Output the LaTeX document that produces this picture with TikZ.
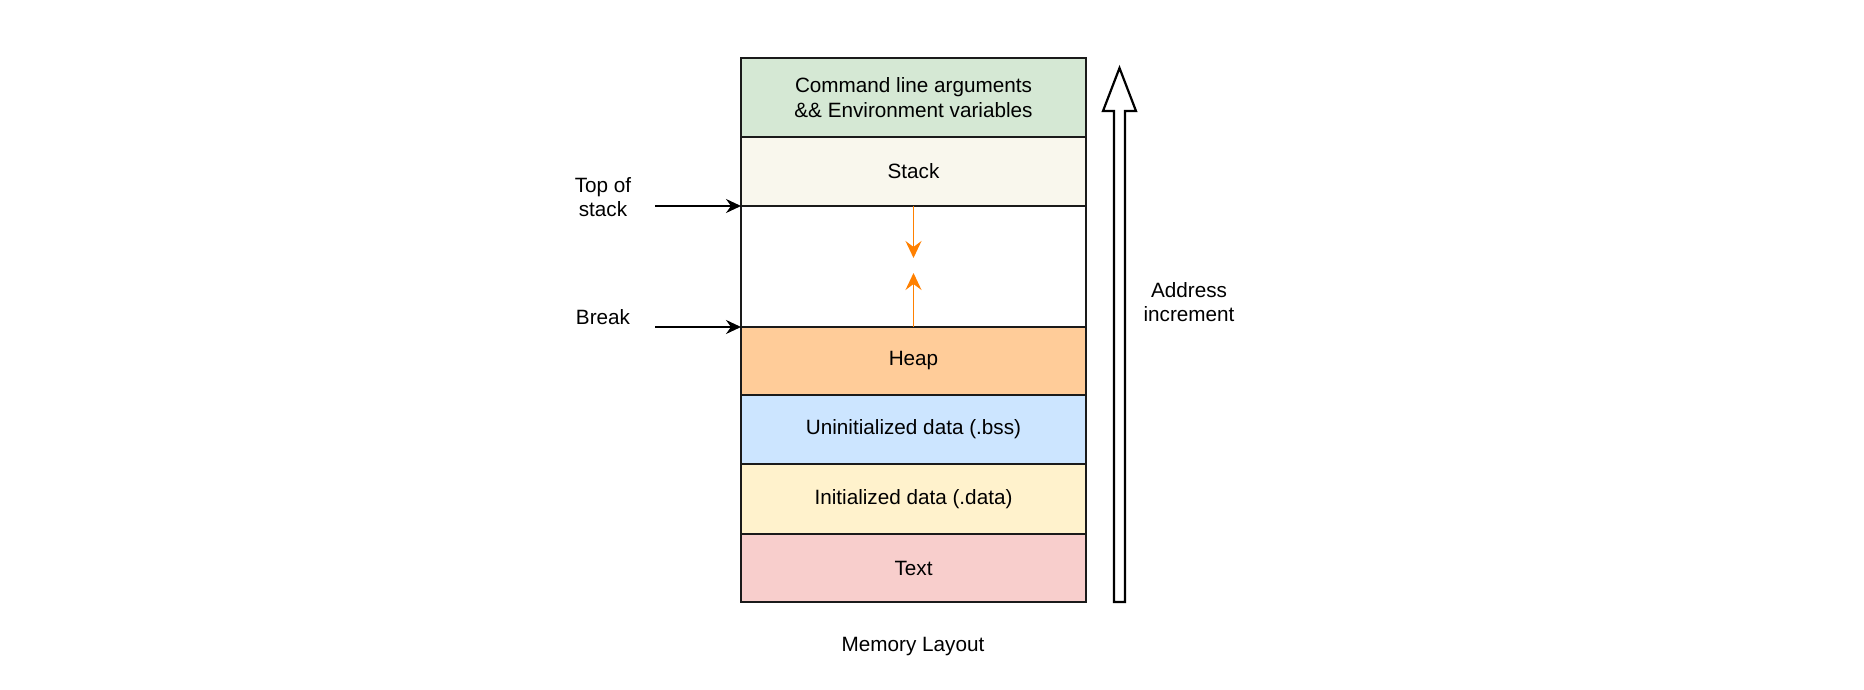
\documentclass[tikz,border=0pt]{standalone}
\usepackage{fontspec}
\setmainfont{Liberation Sans}
\usetikzlibrary{arrows.meta}
\definecolor{cmdgreen}{HTML}{D5E8D4}
\definecolor{stackbg}{HTML}{F9F7ED}
\definecolor{heapbg}{HTML}{FFCC99}
\definecolor{bssbg}{HTML}{CCE5FF}
\definecolor{databg}{HTML}{FFF2CC}
\definecolor{textbg}{HTML}{F8CECC}
\definecolor{orangeline}{HTML}{FF8000}
\definecolor{boxline}{HTML}{1A1A1A}
\begin{document}
\begin{tikzpicture}[x=0.5pt,y=-0.5pt,
  every node/.style={font=\fontsize{10.35}{12.2}\selectfont, align=center},
  seg/.style={draw=boxline, line width=1.1pt, minimum width=172.5pt, inner sep=0pt, outer sep=0pt},
  lbl/.style={inner sep=0pt},
  blackarrow/.style={line width=0.9pt, -{Stealth[length=7.5pt,width=7pt,inset=2.5pt]}},
  orangearrow/.style={draw=orangeline, line width=0.9pt, -{Stealth[length=8.5pt,width=8pt,inset=3pt]}, color=orangeline}
]
\useasboundingbox (0,0) rectangle (1864,690);
% memory segments
\node[seg, fill=cmdgreen, minimum height=39.5pt] (cmd) at (913.5,97.5) {Command line arguments\\\&\& Environment variables};
\node[seg, fill=stackbg, minimum height=34.5pt] (stack) at (913.5,171.5) {Stack};
\node[seg, fill=white, minimum height=60.5pt] (gap) at (913.5,266.5) {};
\node[seg, fill=heapbg, minimum height=34pt] (heap) at (913.5,361) {Heap};
\node[seg, fill=bssbg, minimum height=34.5pt] (bss) at (913.5,429.5) {Uninitialized data (.bss)};
\node[seg, fill=databg, minimum height=35pt] (data) at (913.5,499) {Initialized data (.data)};
\node[seg, fill=textbg, minimum height=34pt] (text) at (913.5,568) {Text};
% labels on the left
\node[lbl] (tos) at (603,197) {Top of\\stack};
\node[lbl] (brk) at (603,317) {Break};
\coordinate (tosstart) at (655,206);
\coordinate (brkstart) at (655,327);
\draw[blackarrow] (tosstart) -- (gap.north west);
\draw[blackarrow] (brkstart) -- (heap.north west);
% growth arrows
\coordinate (downend) at (913.5,258);
\coordinate (upend) at (913.5,273);
\draw[orangearrow] (gap.north) -- (downend);
\draw[orangearrow] (gap.south) -- (upend);
% big hollow arrow
\draw[line width=1.1pt, fill=white, line join=miter]
  (1114,602) -- (1114,111) -- (1103,111) -- (1119.5,68) -- (1136,111) -- (1125,111) -- (1125,602) -- cycle;
\node[lbl] (addr) at (1189,302) {Address\\increment};
% caption
\node[lbl] (caption) at (913,647) {Memory Layout};
\end{tikzpicture}
\end{document}
